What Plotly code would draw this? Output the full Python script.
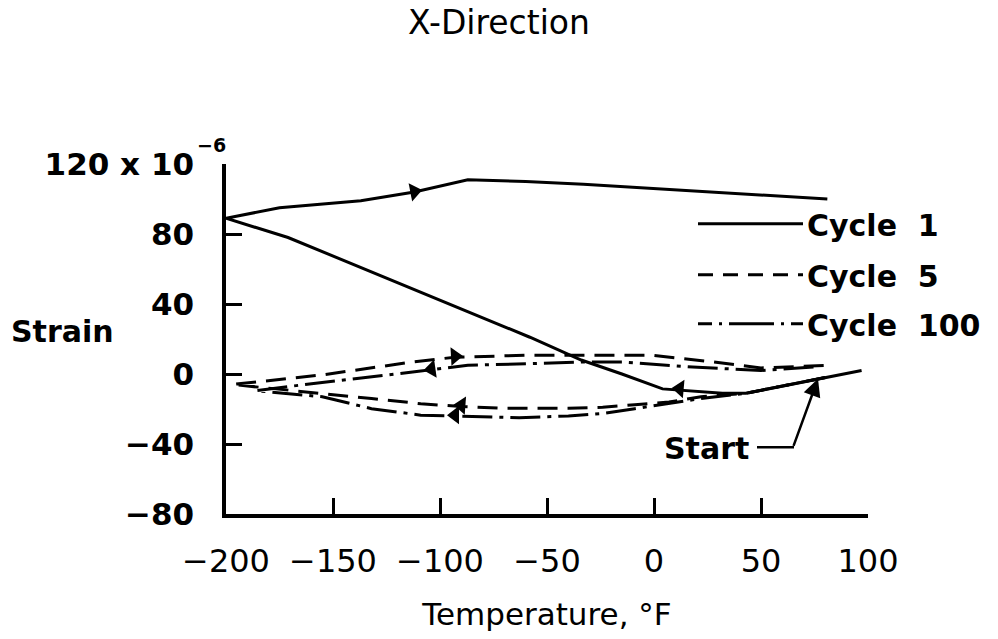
import plotly.graph_objects as go

# ---------------- data ----------------
temp_ticks = [-200, -150, -100, -50, 0, 50, 100]
temp_labels = ["\u2212200", "\u2212150", "\u2212100", "\u221250", "0", "50", "100"]
strain_ticks = [-80, -40, 0, 40, 80, 120]
strain_labels = ["\u221280", "\u221240", "0", "40", "80", "120 x 10"]

# Cycle 1 (solid)
c1_T = [97, 80, 43, 32, 12, 4, -15, -34, -58, -171, -200, -175, -137, -112, -87, -60, -33, 0, 81]
c1_S = [2, -2, -11, -11, -9, -8.5, 0, 8, 21, 78, 89, 95, 99, 104, 111, 110, 108.5, 106, 100]

# Cycle 5 (dashed)
c5_T = [80, 43, 22, 7, -9, -24, -40, -71, -90, -109, -132, -165, -197, -155, -112, -93, -60, -1, 27, 50, 83]
c5_S = [-2, -11, -13, -16, -17.5, -19, -19.6, -19.6, -18.6, -17, -14, -10, -6, -0.5, 7, 9.6, 10.7, 10.7, 7, 3.5, 5]

# Cycle 100 (dash-dot)
c100_T = [80, 43, 22, 7, -9, -24, -40, -63, -91, -109, -132, -155, -186, -163, -109, -87, -56, -34, -15, 18, 50, 75]
c100_S = [-2, -11, -14, -17, -19.8, -22.6, -24, -25, -24, -23.5, -19.8, -13, -9.5, -6, 1.7, 5, 6, 6.8, 6.8, 4, 2, 4]

# direction arrows on the curves
arrow_T = [-112, 12, -93, -104, -90, -93]
arrow_S = [104.2, -8.4, 10.1, 2.8, -17.9, -23.5]
arrow_symbol = ["triangle-right", "triangle-left", "triangle-right", "triangle-left", "triangle-left", "triangle-left"]
arrow_angle = [-11, 5, -3, -8, 4, 0]

legend_names = ["Cycle\u00a0\u00a01", "Cycle\u00a0\u00a05", "Cycle\u00a0\u00a0100"]

# ---------------- layout helpers (page pixel -> paper) ----------------
W, H = 998, 639
PL, PT, PR, PB = 226, 164, 868, 521   # plot box in page pixels
L, T, R, B = PL, PT, W - PR, H - PB
PW, PH = PR - PL, PB - PT


def px(p):
    return (p - PL) / PW


def py(p):
    return (PB - p) / PH


def dx(p):
    return -200 + (p - PL) * 300 / PW


def dy(p):
    return 120 - (p - PT) * 200 / PH


FONT = "DejaVu Sans"

fig = go.Figure()
fig.add_trace(go.Scatter(x=c1_T, y=c1_S, mode="lines", name="Cycle 1",
                         line=dict(color="black", width=3)))
fig.add_trace(go.Scatter(x=c5_T, y=c5_S, mode="lines", name="Cycle 5",
                         line=dict(color="black", width=3, dash="20px,10px")))
fig.add_trace(go.Scatter(x=c100_T, y=c100_S, mode="lines", name="Cycle 100",
                         line=dict(color="black", width=3, dash="30px,7px,4px,7px")))
fig.add_trace(go.Scatter(x=arrow_T, y=arrow_S, mode="markers", name="arrows",
                         marker=dict(symbol=arrow_symbol, angle=arrow_angle, size=16,
                                     color="black", line=dict(width=0))))

shapes = []
annotations = []

# legend drawn by hand
leg_rows = [225, 277, 327]
leg_dash = ["solid", "15px,10px", "14px,7px,3px,7px,45px,7px,3px,7px,14px"]
for name, yr, dsh in zip(legend_names, leg_rows, leg_dash):
    shapes.append(dict(type="line", xref="paper", yref="paper",
                       x0=px(698), x1=px(803), y0=py(yr), y1=py(yr),
                       line=dict(color="black", width=3, dash=dsh)))
    annotations.append(dict(text=name, xref="paper", yref="paper",
                            x=px(805), y=py(yr + 2), xanchor="left", yanchor="middle",
                            showarrow=False,
                            font=dict(family=FONT, size=30, color="black", weight="bold")))

# "Strain" label
annotations.append(dict(text="Strain", xref="paper", yref="paper", x=px(62), y=py(335),
                        xanchor="center", yanchor="middle", showarrow=False,
                        font=dict(family=FONT, size=30, color="black", weight="bold")))
# exponent of the top tick label
annotations.append(dict(text="\u22126", xref="paper", yref="paper", x=px(195), y=py(145),
                        xanchor="left", yanchor="middle", showarrow=False,
                        font=dict(family=FONT, size=19, color="black", weight="bold")))
# Start label with pointer
annotations.append(dict(text="Start", xref="paper", yref="paper", x=px(706), y=py(454),
                        xanchor="center", yanchor="middle", showarrow=False,
                        font=dict(family=FONT, size=30, color="black", weight="bold")))
shapes.append(dict(type="line", xref="paper", yref="paper", x0=px(757), x1=px(794),
                   y0=py(453), y1=py(453), line=dict(color="black", width=2.5)))
annotations.append(dict(text="", x=dx(818), y=dy(383), xref="x", yref="y",
                        ax=dx(793), ay=dy(453), axref="x", ayref="y",
                        showarrow=True, arrowhead=2, arrowsize=1.4, arrowwidth=2.5,
                        arrowcolor="black"))

axis_common = dict(ticks="inside", ticklen=16, tickwidth=3, tickcolor="black",
                   showline=True, linewidth=3.5, linecolor="black",
                   showgrid=False, zeroline=False)

fig.update_layout(
    width=W, height=H,
    margin=dict(l=L, r=R, t=T, b=B),
    paper_bgcolor="white", plot_bgcolor="white",
    showlegend=False,
    title=dict(text="X-Direction", x=0.5, xanchor="center", xref="container",
               y=1 - 22 / H, yref="container", yanchor="middle",
               font=dict(family=FONT, size=33, color="black")),
    xaxis=dict(range=[-200, 100], tickvals=temp_ticks, ticktext=temp_labels,
               tickfont=dict(family=FONT, size=32, color="black"),
               ticklabelstandoff=16,
               title=dict(text="Temperature, \u00b0F", standoff=25,
                          font=dict(family=FONT, size=31, color="black")),
               **axis_common),
    yaxis=dict(range=[-80, 120], tickvals=strain_ticks, ticktext=strain_labels,
               tickfont=dict(family=FONT, size=31, color="black", weight="bold"),
               ticklabelstandoff=22,
               **axis_common),
    shapes=shapes,
    annotations=annotations,
)

fig.write_html("out.html", config={"displayModeBar": False},
               post_script="document.body.style.margin='0px';")
